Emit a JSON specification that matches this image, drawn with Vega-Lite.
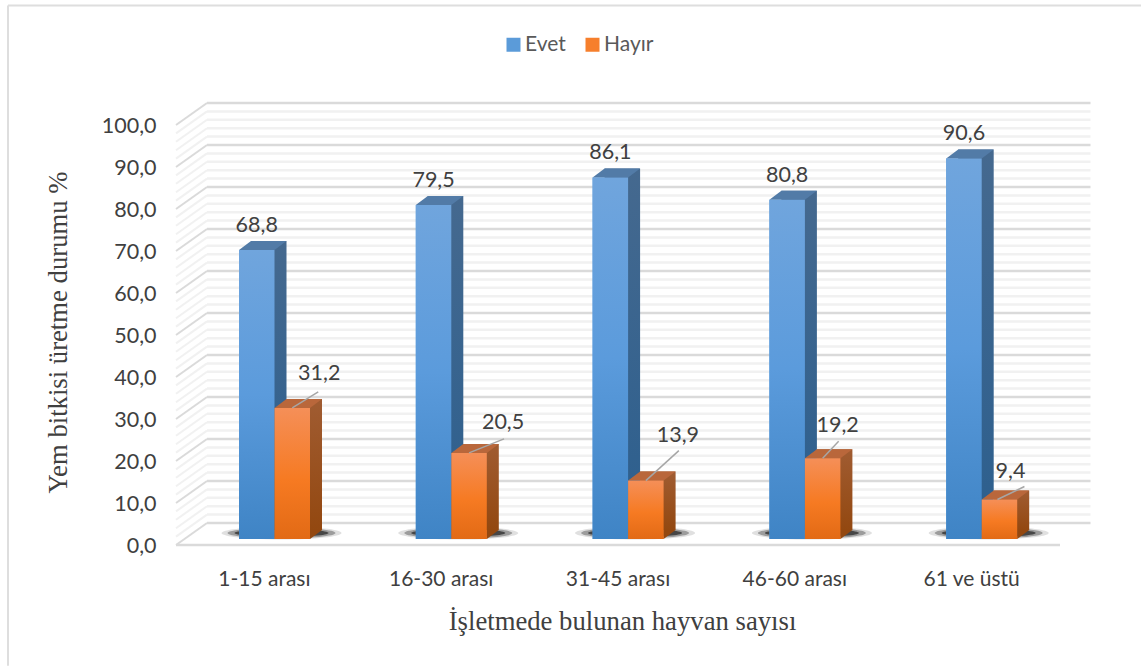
{
"$schema":"https://vega.github.io/schema/vega-lite/v6.json",
"width":884,"height":420,
"autosize":{"type":"none"},
"padding":{"left":176,"top":124,"right":81,"bottom":122},
"background":"white",
"config":{"view":{"stroke":null},"font":"Lato"},
"datasets":{
"bars":[
{"cat":"1-15 arası","series":"Evet","value":68.8,"label":"68,8"},
{"cat":"1-15 arası","series":"Hayır","value":31.2,"label":"31,2"},
{"cat":"16-30 arası","series":"Evet","value":79.5,"label":"79,5"},
{"cat":"16-30 arası","series":"Hayır","value":20.5,"label":"20,5"},
{"cat":"31-45 arası","series":"Evet","value":86.1,"label":"86,1"},
{"cat":"31-45 arası","series":"Hayır","value":13.9,"label":"13,9"},
{"cat":"46-60 arası","series":"Evet","value":80.8,"label":"80,8"},
{"cat":"46-60 arası","series":"Hayır","value":19.2,"label":"19,2"},
{"cat":"61 ve üstü","series":"Evet","value":90.6,"label":"90,6"},
{"cat":"61 ve üstü","series":"Hayır","value":9.4,"label":"9,4"}],
"grid":[
{"tick":2,"back":7,"major":false},{"tick":4,"back":9,"major":false},{"tick":6,"back":11,"major":false},{"tick":8,"back":13,"major":false},
{"tick":12,"back":17,"major":false},{"tick":14,"back":19,"major":false},{"tick":16,"back":21,"major":false},{"tick":18,"back":23,"major":false},
{"tick":22,"back":27,"major":false},{"tick":24,"back":29,"major":false},{"tick":26,"back":31,"major":false},{"tick":28,"back":33,"major":false},
{"tick":32,"back":37,"major":false},{"tick":34,"back":39,"major":false},{"tick":36,"back":41,"major":false},{"tick":38,"back":43,"major":false},
{"tick":42,"back":47,"major":false},{"tick":44,"back":49,"major":false},{"tick":46,"back":51,"major":false},{"tick":48,"back":53,"major":false},
{"tick":52,"back":57,"major":false},{"tick":54,"back":59,"major":false},{"tick":56,"back":61,"major":false},{"tick":58,"back":63,"major":false},
{"tick":62,"back":67,"major":false},{"tick":64,"back":69,"major":false},{"tick":66,"back":71,"major":false},{"tick":68,"back":73,"major":false},
{"tick":72,"back":77,"major":false},{"tick":74,"back":79,"major":false},{"tick":76,"back":81,"major":false},{"tick":78,"back":83,"major":false},
{"tick":82,"back":87,"major":false},{"tick":84,"back":89,"major":false},{"tick":86,"back":91,"major":false},{"tick":88,"back":93,"major":false},
{"tick":92,"back":97,"major":false},{"tick":94,"back":99,"major":false},{"tick":96,"back":101,"major":false},{"tick":98,"back":103,"major":false},
{"tick":0,"back":5,"major":true},{"tick":10,"back":15,"major":true},{"tick":20,"back":25,"major":true},{"tick":30,"back":35,"major":true},{"tick":40,"back":45,"major":true},{"tick":50,"back":55,"major":true},{"tick":60,"back":65,"major":true},{"tick":70,"back":75,"major":true},{"tick":80,"back":85,"major":true},{"tick":90,"back":95,"major":true},{"tick":100,"back":105,"major":true}]
},
"resolve":{"scale":{"x":"independent"}},
"layer":[
{"data":{"name":"grid"},
 "mark":{"type":"rule","strokeWidth":2,"yOffset":1},
 "encoding":{
  "x":{"datum":0,"type":"quantitative","scale":{"domain":[0,28.516]},"axis":null},
  "x2":{"datum":1},
  "y":{"field":"tick","type":"quantitative","scale":{"domain":[0,100]},"axis":{"values":[0,10,20,30,40,50,60,70,80,90,100],"grid":false,"domain":false,"ticks":false,"labelExpr":"replace(format(datum.value,'.1f'),'.',',')","labelFont":"Lato","labelFontSize":21.5,"labelColor":"#404040","labelPadding":20,"labelOffset":2,"title":"Yem bitkisi üretme durumu %","titleFont":"Liberation Serif","titleFontSize":26.7,"titleFontWeight":"normal","titleColor":"#404040","titleX":-104,"titleY":208}},
  "y2":{"field":"back"},
  "color":{"condition":{"test":"datum.major","value":"#dadada"},"value":"#f1f1f1"}}},
{"data":{"name":"grid"},
 "mark":{"type":"rule","strokeWidth":2.5},
 "encoding":{
  "x":{"datum":1,"type":"quantitative","scale":{"domain":[0,28.516]},"axis":null},
  "x2":{"datum":29.5},
  "y":{"field":"back","type":"quantitative"},
  "color":{"condition":{"test":"datum.major","value":"#dadada"},"value":"#f1f1f1"}}},
{"data":{"values":[{"floor":0,"top":128.2,"bottom":-29}]},
 "mark":{"type":"rule","strokeWidth":2.5,"color":"#dadada","yOffset":1},
 "encoding":{
  "x":{"datum":0,"type":"quantitative","scale":{"domain":[0,28.516]},"axis":null},
  "x2":{"datum":28.516},
  "y":{"field":"floor","type":"quantitative"}}},
{"data":{"values":[{"floor":0,"top":128.2,"bottom":-29}]},
 "mark":{"type":"rule","strokeWidth":2,"color":"#dedede","clip":false},
 "encoding":{
  "x":{"datum":-5.42,"type":"quantitative","scale":{"domain":[0,28.516]},"axis":null},
  "x2":{"datum":31.2},
  "y":{"field":"top","type":"quantitative"}}},
{"data":{"values":[{"floor":0,"top":128.2,"bottom":-29}]},
 "mark":{"type":"rule","strokeWidth":2,"color":"#dedede","clip":false},
 "encoding":{
  "x":{"datum":-5.42,"type":"quantitative","scale":{"domain":[0,28.516]},"axis":null},
  "y":{"field":"top","type":"quantitative"},
  "y2":{"field":"bottom"}}},
{"data":{"name":"bars"},
 "resolve":{"scale":{"xOffset":"independent"}},
 "encoding":{
  "x":{"field":"cat","type":"nominal","sort":null,"scale":{"paddingInner":0,"paddingOuter":0},"axis":{"title":"İşletmede bulunan hayvan sayısı","titleFont":"Liberation Serif","titleFontSize":26.7,"titleFontWeight":"normal","titleColor":"#404040","titleX":446,"titleY":64,"labelAngle":0,"labelFont":"Lato","labelFontSize":21,"labelColor":"#404040","labelPadding":24,"domain":false,"ticks":false,"grid":false}},
  "xOffset":{"field":"series","type":"nominal","scale":{"domain":["Evet","Hayır"],"range":[63,134],"paddingInner":0,"paddingOuter":0}},
  "y":{"field":"value","type":"quantitative"}},
 "layer":[
 {"transform":[{"filter":"datum.series==='Evet'"}],
  "encoding":{"xOffset":{"field":"series","type":"nominal","scale":{"domain":["Evet","Hayır"],"range":[87.6,159.1]}}},
  "layer":[
  {"mark":{"type":"point","shape":"M-60,0A60,6.5 0 1,0 60,0A60,6.5 0 1,0 -60,0Z","size":4,"filled":true,"color":"#000","opacity":0.12},
   "encoding":{"y":{"datum":2.6,"type":"quantitative"}}},
  {"mark":{"type":"point","shape":"M-54,0A54,5.5 0 1,0 54,0A54,5.5 0 1,0 -54,0Z","size":4,"filled":true,"color":"#000","opacity":0.3},
   "encoding":{"y":{"datum":2.6,"type":"quantitative"}}},
  {"mark":{"type":"point","shape":"M-47,0A47,4 0 1,0 47,0A47,4 0 1,0 -47,0Z","size":4,"filled":true,"color":"#000","opacity":0.55},
   "encoding":{"y":{"datum":2.6,"type":"quantitative"}}}]},
 {"mark":{"type":"bar","yOffset":-5,"y2Offset":-5},
  "encoding":{"color":{"field":"series","type":"nominal",
    "scale":{"domain":["Evet","Hayır"],"range":["#5b9bd9","#f67f2c"]},
    "legend":{"title":null,"orient":"none","legendX":327,"legendY":-90,"direction":"horizontal","symbolType":"square","symbolSize":196,"symbolStrokeWidth":0,"labelFont":"Lato","labelFontSize":21,"labelColor":"#595959","columnPadding":16,"labelOffset":1}}}},
 {"transform":[{"filter":"datum.series==='Evet'"}],
  "mark":{"type":"bar","yOffset":-14,"y2Offset":-14,"color":{"gradient":"linear","x1":0,"y1":0,"x2":0,"y2":1,"stops":[{"offset":0,"color":"#45698f"},{"offset":1,"color":"#2c5f8e"}]}},
  "encoding":{"xOffset":{"field":"series","type":"nominal","scale":{"domain":["Evet","Hayır"],"range":[75,146],"paddingInner":0,"paddingOuter":0}}}},
 {"transform":[{"filter":"datum.series==='Evet'"}],
  "layer":[
   {"mark":{"type":"point","shape":"M17.75,0L29.75,-9L17.75,-9Z","size":4,"filled":true,"opacity":1,"color":"#2c5f8e","yOffset":-5},"encoding":{"y":{"datum":0,"type":"quantitative"}}},
   {"mark":{"type":"point","shape":"M-17.75,0L-5.75,-9L29.75,-9L17.75,0Z","size":4,"filled":true,"opacity":1,"color":"#527ba7","yOffset":-5}},
   {"mark":{"type":"bar","yOffset":-5,"y2Offset":-5,"color":{"gradient":"linear","x1":0,"y1":0,"x2":0,"y2":1,"stops":[{"offset":0,"color":"#70a5dd"},{"offset":0.5,"color":"#5b9bdc"},{"offset":1,"color":"#3f84c5"}]}}}]},
 {"transform":[{"filter":"datum.series==='Hayır'"}],
  "mark":{"type":"bar","yOffset":-14,"y2Offset":-14,"color":{"gradient":"linear","x1":0,"y1":0,"x2":0,"y2":1,"stops":[{"offset":0,"color":"#a05c32"},{"offset":1,"color":"#934810"}]}},
  "encoding":{"xOffset":{"field":"series","type":"nominal","scale":{"domain":["Evet","Hayır"],"range":[75,146],"paddingInner":0,"paddingOuter":0}}}},
 {"transform":[{"filter":"datum.series==='Hayır'"}],
  "layer":[
   {"mark":{"type":"point","shape":"M17.75,0L29.75,-9L17.75,-9Z","size":4,"filled":true,"opacity":1,"color":"#934810","yOffset":-5},"encoding":{"y":{"datum":0,"type":"quantitative"}}},
   {"mark":{"type":"point","shape":"M-17.75,0L-5.75,-9L29.75,-9L17.75,0Z","size":4,"filled":true,"opacity":1,"color":"#b9673b","yOffset":-5}},
   {"mark":{"type":"bar","yOffset":-5,"y2Offset":-5,"color":{"gradient":"linear","x1":0,"y1":0,"x2":0,"y2":1,"stops":[{"offset":0,"color":"#f58f58"},{"offset":0.55,"color":"#f67a22"},{"offset":1,"color":"#e26a15"}]}}}]},
 {"transform":[{"filter":"datum.series==='Evet'"}],
  "mark":{"type":"text","font":"Lato","fontSize":21.5,"color":"#404040","dy":-29,"baseline":"middle"},
  "encoding":{"text":{"field":"label"},"xOffset":{"field":"series","type":"nominal","scale":{"domain":["Evet","Hayır"],"range":[63,134]}}}},
 {"transform":[{"filter":"datum.label==='31,2'"}],
  "encoding":{"xOffset":{"field":"series","type":"nominal","scale":{"domain":["Evet","Hayır"],"range":[63,134]}}},
  "layer":[
  {"mark":{"type":"text","font":"Lato","fontSize":21.5,"color":"#404040","dx":27,"dy":-39,"baseline":"middle"},"encoding":{"text":{"field":"label"}}},
  {"mark":{"type":"point","shape":"M0,0L26,-16","size":4,"filled":false,"opacity":1,"stroke":"#a6a6a6","strokeWidth":1.5,"yOffset":-5}}]},
 {"transform":[{"filter":"datum.label==='20,5'"}],
  "encoding":{"xOffset":{"field":"series","type":"nominal","scale":{"domain":["Evet","Hayır"],"range":[63,134]}}},
  "layer":[
  {"mark":{"type":"text","font":"Lato","fontSize":21.5,"color":"#404040","dx":34,"dy":-35,"baseline":"middle"},"encoding":{"text":{"field":"label"}}},
  {"mark":{"type":"point","shape":"M0,0L35,-14","size":4,"filled":false,"opacity":1,"stroke":"#a6a6a6","strokeWidth":1.5,"yOffset":-5}}]},
 {"transform":[{"filter":"datum.label==='13,9'"}],
  "encoding":{"xOffset":{"field":"series","type":"nominal","scale":{"domain":["Evet","Hayır"],"range":[63,134]}}},
  "layer":[
  {"mark":{"type":"text","font":"Lato","fontSize":21.5,"color":"#404040","dx":32,"dy":-50,"baseline":"middle"},"encoding":{"text":{"field":"label"}}},
  {"mark":{"type":"point","shape":"M0,0L33,-30","size":4,"filled":false,"opacity":1,"stroke":"#a6a6a6","strokeWidth":1.5,"yOffset":-5}}]},
 {"transform":[{"filter":"datum.label==='19,2'"}],
  "encoding":{"xOffset":{"field":"series","type":"nominal","scale":{"domain":["Evet","Hayır"],"range":[63,134]}}},
  "layer":[
  {"mark":{"type":"text","font":"Lato","fontSize":21.5,"color":"#404040","dx":15,"dy":-37,"baseline":"middle"},"encoding":{"text":{"field":"label"}}},
  {"mark":{"type":"point","shape":"M0,0L16,-17","size":4,"filled":false,"opacity":1,"stroke":"#a6a6a6","strokeWidth":1.5,"yOffset":-5}}]},
 {"transform":[{"filter":"datum.label==='9,4'"}],
  "encoding":{"xOffset":{"field":"series","type":"nominal","scale":{"domain":["Evet","Hayır"],"range":[63,134]}}},
  "layer":[
  {"mark":{"type":"text","font":"Lato","fontSize":21.5,"color":"#404040","dx":11,"dy":-33,"baseline":"middle"},"encoding":{"text":{"field":"label"}}},
  {"mark":{"type":"point","shape":"M-2,0L25,-13","size":4,"filled":false,"opacity":1,"stroke":"#a6a6a6","strokeWidth":1.5,"yOffset":-5}}]}
 ]}
]}
